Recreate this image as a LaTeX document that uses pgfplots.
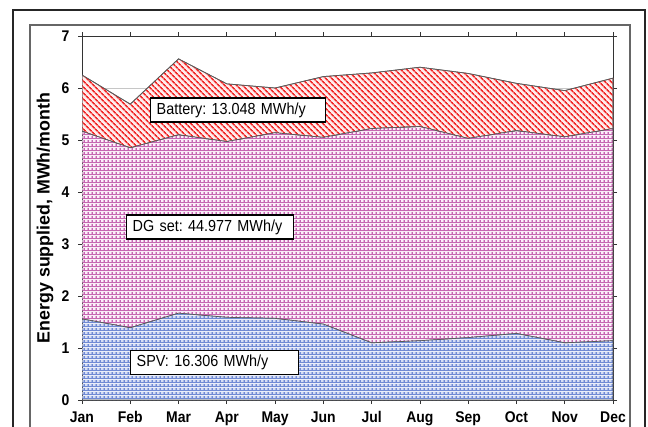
\documentclass[border=0pt]{standalone}
\usepackage{fontspec}
\setmainfont{Liberation Sans}[FakeStretch=0.9]
\newfontfamily\labelfont{Liberation Sans}
\usepackage{pgfplots}
\usepackage{pgfplotstable}
\pgfplotsset{compat=1.18}
\usetikzlibrary{patterns,patterns.meta}

\definecolor{batred}{RGB}{240,40,40}
\definecolor{batlight}{RGB}{255,236,236}
\definecolor{dgmag}{RGB}{198,102,178}
\definecolor{dglight}{RGB}{252,240,250}
\definecolor{spvblue}{RGB}{112,138,212}
\definecolor{spvlight}{RGB}{214,222,244}

% checks for the DG band
\pgfdeclarepatterninherentlycolored{dgchecks}
  {\pgfpointorigin}{\pgfqpoint{4pt}{4pt}}{\pgfqpoint{4pt}{4pt}}{
  \pgfsetfillcolor{dgmag}
  \pgfpathrectangle{\pgfpointorigin}{\pgfqpoint{4pt}{4pt}}\pgfusepath{fill}
  \pgfsetfillcolor{dglight}
  \pgfpathrectangle{\pgfqpoint{1.5pt}{1.5pt}}{\pgfqpoint{2.5pt}{2.5pt}}\pgfusepath{fill}}

% checks for the SPV band
\pgfdeclarepatterninherentlycolored{spvchecks}
  {\pgfpointorigin}{\pgfqpoint{4pt}{4pt}}{\pgfqpoint{4pt}{4pt}}{
  \pgfsetfillcolor{spvblue}
  \pgfpathrectangle{\pgfpointorigin}{\pgfqpoint{4pt}{4pt}}\pgfusepath{fill}
  \pgfsetfillcolor{spvlight}
  \pgfpathrectangle{\pgfqpoint{1.5pt}{1.5pt}}{\pgfqpoint{2.5pt}{2.5pt}}\pgfusepath{fill}}

% monthly energy, MWh/month (stacked: SPV, DG set, battery)
\pgfplotstableread{
m  spv   dg    bat
0  1.56  3.61  1.08
1  1.39  3.46  0.84
2  1.67  3.43  1.46
3  1.59  3.38  1.11
4  1.57  3.57  0.86
5  1.46  3.59  1.17
6  1.10  4.12  1.07
7  1.14  4.12  1.14
8  1.20  3.83  1.25
9  1.28  3.90  0.91
10 1.10  3.96  0.89
11 1.14  4.08  0.97
}\energy

\begin{document}
\frenchspacing
\begin{tikzpicture}
\useasboundingbox (0,0) rectangle (648pt,426pt);
\draw[line width=2.5pt, black!85] (13pt,-5pt) -- (13pt,416pt) -- (645pt,416pt) -- (645pt,-5pt);
\draw[line width=1.2pt, black!60] (30pt,-5pt) -- (30pt,401pt) -- (630pt,401pt) -- (630pt,-5pt);
\begin{axis}[
  at={(82pt,26pt)}, anchor=south west,
  scale only axis, width=531pt, height=364pt,
  xmin=0, xmax=11, ymin=0, ymax=7,
  xtick={0,...,11},
  xticklabels={Jan,Feb,Mar,Apr,May,Jun,Jul,Aug,Sep,Oct,Nov,Dec},
  ytick={0,...,7},
  stack plots=y,
  ymajorgrids, grid style={gray!45, line width=0.6pt},
  tick align=outside, major tick length=4pt,
  tick style={black!80, line width=0.8pt},
  axis line style={black!80, line width=1pt},
  ticklabel style={font=\bfseries\fontsize{15.5}{15.5}\selectfont},
  xticklabel style={yshift=-4pt},
  yticklabel style={xshift=-5pt},
  /pgf/number format/assume math mode=true,
  ylabel={Energy supplied, MWh/month},
  ylabel style={font=\labelfont\bfseries\fontsize{17.8}{18}\selectfont,
    at={(axis description cs:-0.0697,0.5)}, anchor=center},
]
\addplot[draw=black!65, line width=0.7pt, pattern=spvchecks]
  table[x=m, y=spv] {\energy} \closedcycle;
\addplot[draw=black!65, line width=0.7pt, pattern=dgchecks]
  table[x=m, y=dg] {\energy} \closedcycle;
\addplot[draw=black!65, line width=0.7pt, fill=batlight,
  postaction={pattern={Lines[angle=-45,distance=4pt,line width=1.7pt]}, pattern color=batred}]
  table[x=m, y=bat] {\energy} \closedcycle;
\end{axis}
\tikzset{box/.style={draw=black, line width=1.3pt, fill=white, anchor=west,
  minimum height=24pt, inner xsep=6pt, align=left,
  font=\fontsize{16}{16}\selectfont}}
\node[box, text width=163pt] at (150pt,316pt) {Battery: 13.048 MWh/y};
\node[box, text width=155pt] at (126pt,199pt) {DG set: 44.977 MWh/y};
\node[box, text width=156pt] at (130pt,63.5pt) {SPV: 16.306 MWh/y};
\end{tikzpicture}
\end{document}
